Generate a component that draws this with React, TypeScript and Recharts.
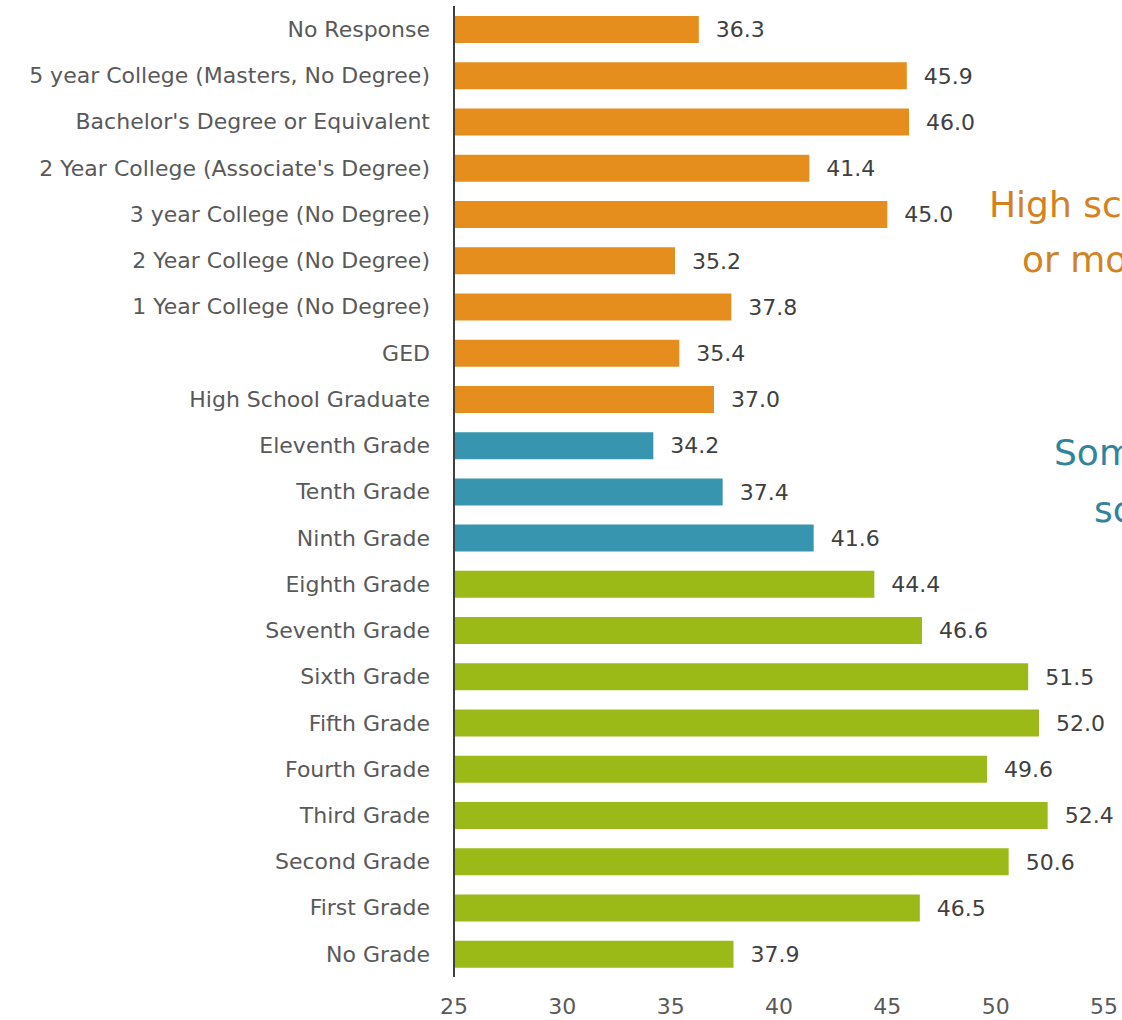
import { BarChart, Bar, XAxis, YAxis, Cell, LabelList, Customized } from 'recharts'

const categories = [
  'No Response',
  '5 year College (Masters, No Degree)',
  "Bachelor's Degree or Equivalent",
  "2 Year College (Associate's Degree)",
  '3 year College (No Degree)',
  '2 Year College (No Degree)',
  '1 Year College (No Degree)',
  'GED',
  'High School Graduate',
  'Eleventh Grade',
  'Tenth Grade',
  'Ninth Grade',
  'Eighth Grade',
  'Seventh Grade',
  'Sixth Grade',
  'Fifth Grade',
  'Fourth Grade',
  'Third Grade',
  'Second Grade',
  'First Grade',
  'No Grade',
]

const values = [
  36.3, 45.9, 46.0, 41.4, 45.0, 35.2, 37.8, 35.4, 37.0, 34.2, 37.4, 41.6, 44.4, 46.6, 51.5, 52.0, 49.6,
  52.4, 50.6, 46.5, 37.9,
]

// which education group each row belongs to
const groups = [
  'high', 'high', 'high', 'high', 'high', 'high', 'high', 'high', 'high',
  'some', 'some', 'some',
  'none', 'none', 'none', 'none', 'none', 'none', 'none', 'none', 'none',
]

const xTicks = [25, 30, 35, 40, 45, 50, 55]

const groupColors: Record<string, string> = {
  high: '#E58E1E',
  some: '#3795AF',
  none: '#9CBA17',
}

const FONT = '"DejaVu Sans", sans-serif'

// side notes, partly cut off by the right edge like in the original
const GroupNotes = () => (
  <g fontFamily={FONT} fontSize={36}>
    <text x={989} y={217} fill="#D4821F">High school</text>
    <text x={1022} y={272} fill="#D4821F">or more</text>
    <text x={1054} y={465} fill="#31849B">Some high</text>
    <text x={1094} y={522} fill="#31849B">school</text>
  </g>
)

export default function App() {
  const data = categories.map((name, i) => ({ name, value: values[i], group: groups[i] }))

  return (
    <div style={{ position: 'absolute', left: 0, top: 0, width: 1122, height: 1020, overflow: 'hidden', background: '#fff' }}>
      <BarChart
        width={1122}
        height={1020}
        data={data}
        layout="vertical"
        margin={{ top: 6, right: 18, left: 0, bottom: 0 }}
        style={{ fontFamily: FONT }}
      >
        <XAxis
          type="number"
          domain={[25, 55]}
          ticks={xTicks}
          allowDataOverflow
          axisLine={false}
          tickLine={false}
          tickMargin={15}
          height={43}
          tick={{ fontSize: 22, fill: '#595959' }}
        />
        <YAxis
          type="category"
          dataKey="name"
          width={454}
          interval={0}
          tickLine={false}
          tickMargin={18}
          axisLine={{ stroke: '#404040', strokeWidth: 2 }}
          tick={{ fontSize: 22, fill: '#595959' }}
        />
        <Bar dataKey="value" barSize={27} isAnimationActive={false}>
          {data.map((d) => (
            <Cell key={d.name} fill={groupColors[d.group]} />
          ))}
          <LabelList
            dataKey="value"
            position="right"
            offset={17}
            formatter={(v: number) => v.toFixed(1)}
            style={{ fontSize: 22, fill: '#404040', fontFamily: FONT }}
          />
        </Bar>
        <Customized component={GroupNotes} />
      </BarChart>
    </div>
  )
}
